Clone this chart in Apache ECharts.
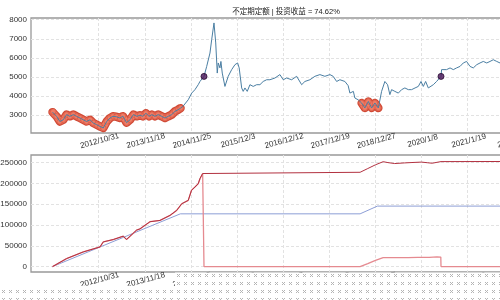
<!DOCTYPE html>
<html><head><meta charset="utf-8">
<script src="https://cdn.jsdelivr.net/npm/echarts@6/dist/echarts.min.js"></script>
<style>html,body{margin:0;padding:0;background:#fff}#c{width:500px;height:300px}</style>
</head><body><div id="c"></div>
<script>
const titleText = '不定期定额 | 投资收益 = 74.62%';
const tickIndex = [240,480,720,960,1200,1440,1680,1920,2160,2400];
const tickLabels = ['2012/10/31','2013/11/18','2014/11/25','2015/12/3','2016/12/12','2017/12/19','2018/12/27','2020/1/8','2021/1/19','2022/1/24'];
const priceTicks = [3000,4000,5000,6000,7000,8000];
const valueTicks = [0,50000,100000,150000,200000,250000];

const priceIdx = [0,4,21,38,56,73,90,108,125,143,160,177,195,212,230,247,264,282,299,314,332,351,366,385,403,421,439,455,470,486,502,517,533,550,568,585,602,620,637,654,666,679,689,706,724,741,758,767,776,788,802,819,828,840,849,857,862,871,876,883,897,906,914,932,949,963,971,984,992,1001,1013,1027,1044,1062,1079,1096,1114,1131,1157,1183,1200,1218,1244,1270,1296,1313,1339,1365,1391,1417,1443,1460,1478,1495,1521,1538,1547,1565,1573,1590,1608,1625,1643,1660,1677,1695,1712,1729,1743,1755,1764,1781,1799,1816,1833,1851,1868,1886,1903,1917,1929,1941,1955,1964,1981,1998,2021,2024,2033,2050,2068,2085,2102,2120,2137,2154,2172,2189,2207,2224,2241,2259,2276,2293,2311,2328,2350];
const priceVal = [3150,3190,2930,2660,2750,3020,2930,3020,2930,2840,2750,2660,2750,2580,2490,2400,2320,2660,2840,2930,2910,2840,2940,2600,2750,3020,2930,2990,2930,3090,2930,3020,2930,3020,2930,2840,2930,3020,3190,3280,3360,3460,3540,3800,4150,4330,4590,4760,4800,5025,5550,6250,6950,7830,6780,5200,5730,5470,5810,5200,4500,4590,5030,5380,5640,5730,5470,4420,4240,4420,4240,4590,4500,4590,4590,4760,4850,4850,4940,5120,4850,4940,4850,5030,4590,4760,4850,5030,5120,5030,5120,5030,4760,4850,4760,4540,4150,4240,3890,3800,3630,3370,3710,3370,3630,3370,4240,4760,4590,4070,4330,4240,4150,4330,4420,4330,4330,4420,4500,4760,4500,4760,4420,4420,4590,4760,5025,5380,5470,5380,5470,5380,5470,5550,5730,5810,5550,5470,5640,5730,5810,5730,5810,5900,5810,5730,5760];

const buyRanges = [[0,666],[1608,1695]];
const sellIdx = [788, 2021];

const totalIdx = [0,73,160,247,264,316,368,385,437,455,507,559,611,646,672,706,723,741,750,758,767,781,787,1600,1640,1680,1720,1745,1780,1830,1870,1920,1950,1975,2000,2021,2360];
const totalVal = [0,19300,35300,47300,59400,65200,73200,65200,87700,90800,108000,111100,123200,135300,151200,159400,183600,191500,188000,199500,211600,224000,227000,227000,236000,245000,252500,250300,248000,249500,250500,251500,250000,248800,251000,252700,253000];

const investIdx = [0,665,1600,1690,2360];
const investVal = [0,127000,127000,145600,145600];

const holdIdx = [0,73,160,247,264,316,368,385,437,455,507,559,611,646,672,706,723,741,750,758,767,781,787,788,1600,1640,1680,1720,1760,1800,1850,1900,1960,2000,2020,2021,2360];
const holdVal = [0,19300,35300,47300,59400,65200,73200,65200,87700,90800,108000,111100,123200,135300,151200,159400,183600,191500,188000,199500,211600,224000,227000,0,0,7000,15000,21700,21500,21800,21700,22300,22000,23200,23000,0,0];

const zip = (a,b) => a.map((v,i)=>[v,b[i]]);
const price = zip(priceIdx, priceVal);
const buySegs = buyRanges.map(r => price.filter(p => p[0]>=r[0] && p[0]<=r[1]));
const sells = sellIdx.map(i => price.find(p => p[0]===i));

const pc = document.createElement('canvas'); pc.width = 7; pc.height = 8;
const g = pc.getContext('2d');
g.fillStyle = '#fff'; g.fillRect(0,0,7,8);
g.fillStyle = '#b4b4b4';
[[2,2],[4,2],[3,3],[2,4],[4,4]].forEach(p=>g.fillRect(p[0],p[1],1,1));

const font = 'Liberation Sans, Noto Sans CJK SC, sans-serif';
const X0 = -112, X1 = 2484;
function xAxis(gi){
  return {
    type:'value', gridIndex:gi, min:X0, max:X1,
    axisLine:{show:false},
    axisTick:{show:false, customValues: tickIndex},
    axisLabel:{customValues: tickIndex, formatter: v => tickLabels[tickIndex.indexOf(v)] || '',
      rotate:15, align:'center', verticalAlign:'top', margin:4, fontSize:8, color:'#333', fontFamily:font,
      hideOverlap:false},
    splitLine:{show:true, lineStyle:{color:'#e2e2e2', width:1, type:[3,2]}}
  };
}
function yAxis(gi, mn, mx, ticks){
  return {
    type:'value', gridIndex:gi, min:mn, max:mx,
    axisLine:{show:false},
    axisTick:{show:false, customValues: ticks},
    axisLabel:{customValues: ticks, formatter: v => String(v), fontSize:8, color:'#333', margin:4, fontFamily:font},
    splitLine:{show:true, lineStyle:{color:'#e2e2e2', width:1, type:[3,2]}}
  };
}

const series = [];
buySegs.forEach(seg => {
  series.push({type:'line', xAxisIndex:0, yAxisIndex:0, data:seg, symbol:'none', silent:true,
    lineStyle:{color:'#d04a36', width:8.5, cap:'round', join:'round'}, z:2});
  series.push({type:'line', xAxisIndex:0, yAxisIndex:0, data:seg, symbol:'none', silent:true,
    lineStyle:{color:'#ef7c65', width:6, cap:'round', join:'round'}, z:3});
  series.push({type:'scatter', xAxisIndex:0, yAxisIndex:0, data:seg, symbolSize:5.5,
    itemStyle:{color:'#ef7c65', borderColor:'#d04a36', borderWidth:0.6}, z:4});
});
series.push({type:'line', xAxisIndex:0, yAxisIndex:0, data:price, symbol:'none',
  lineStyle:{color:'#4a7ea2', width:1}, z:5});
series.push({type:'scatter', xAxisIndex:0, yAxisIndex:0, data:sells, symbolSize:6,
  itemStyle:{color:'#4a1457', borderColor:'#26082f', borderWidth:1}, z:6});

series.push({type:'line', xAxisIndex:1, yAxisIndex:1, data:zip(investIdx, investVal), symbol:'none',
  lineStyle:{color:'#8d9ed6', width:1}, z:3});
series.push({type:'line', xAxisIndex:1, yAxisIndex:1, data:zip(holdIdx, holdVal), symbol:'none',
  lineStyle:{color:'#e58a90', width:1.3}, z:4});
series.push({type:'line', xAxisIndex:1, yAxisIndex:1, data:zip(totalIdx, totalVal), symbol:'none',
  lineStyle:{color:'#b23140', width:1}, z:5});

const chart = echarts.init(document.getElementById('c'), null, {renderer:'canvas'});
chart.setOption({
  animation:false,
  backgroundColor:'#fff',
  title:{text:titleText, left:281, top:3, textAlign:'center',
    textStyle:{fontSize:7.5, fontWeight:'normal', color:'#222', fontFamily:font}},
  grid:[
    {left:31, top:18, width:499, height:115, show:true, borderColor:'#999', borderWidth:1.3, backgroundColor:'transparent', outerBoundsMode:'none', containLabel:false},
    {left:31, top:155, width:499, height:117, show:true, borderColor:'#999', borderWidth:1.3, backgroundColor:'transparent', outerBoundsMode:'none', containLabel:false}
  ],
  xAxis:[xAxis(0), xAxis(1)],
  yAxis:[yAxis(0, 2056, 8089, priceTicks), yAxis(1, -13000, 268600, valueTicks)],
  series: series,
  graphic:[
    {type:'rect', z:100, shape:{x:175, y:272.5, width:325, height:28}, style:{fill:{image:pc, repeat:'repeat'}}},
    {type:'rect', z:100, shape:{x:0, y:286, width:176, height:14}, style:{fill:{image:pc, repeat:'repeat'}}}
  ]
});
</script></body></html>
